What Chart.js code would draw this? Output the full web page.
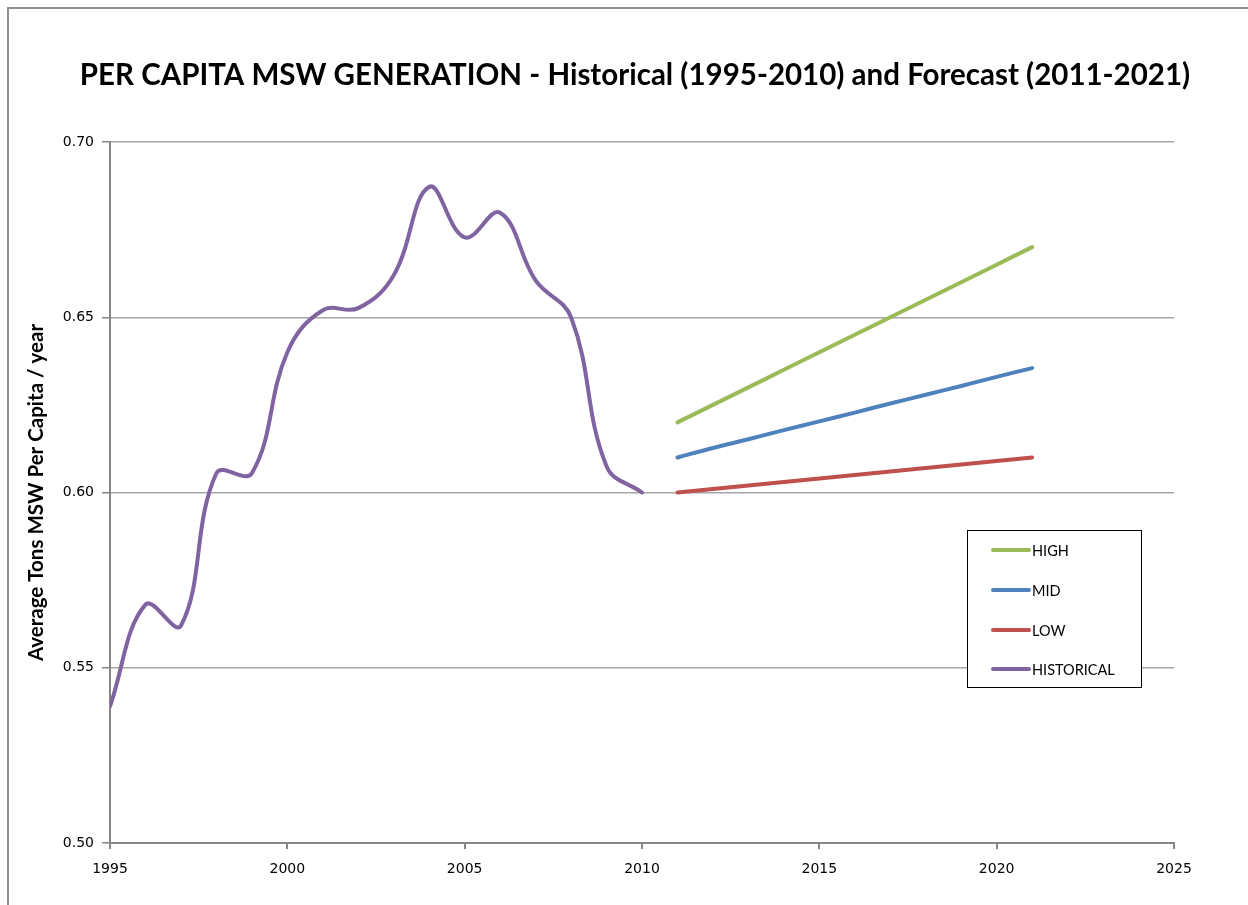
<!DOCTYPE html>
<html>
<head>
<meta charset="utf-8">
<script src="https://cdn.jsdelivr.net/npm/chart.js@4/dist/chart.umd.min.js"></script>
<style>
  html, body { margin: 0; padding: 0; background: #fff; overflow: hidden; }
  #frame { position: absolute; left: 7px; top: 7px; width: 1400px; height: 1100px; border: 2px solid #8e8e8e; }
  #wrap { position: absolute; left: 0; top: 0; width: 1248px; height: 905px; }
</style>
</head>
<body>
<div id="frame"></div>
<div id="wrap"><canvas id="c" width="1248" height="905"></canvas></div>
<script>
const chartTitle = 'PER CAPITA MSW GENERATION - Historical (1995-2010) and Forecast (2011-2021)';
const yAxisTitle = 'Average Tons MSW Per Capita / year';

const historicalYears = [1995,1996,1997,1998,1999,2000,2001,2002,2003,2004,2005,2006,2007,2008,2009,2010];
const historicalValues = [0.539,0.568,0.562,0.6055,0.6055,0.640,0.652,0.6526,0.662,0.6872,0.6728,0.6798,0.6605,0.650,0.6075,0.600];

const forecastYears = [2011,2012,2013,2014,2015,2016,2017,2018,2019,2020,2021];
const highValues = [0.620,0.625,0.630,0.635,0.640,0.645,0.650,0.655,0.660,0.665,0.670];
const midValues  = [0.610,0.6127,0.6152,0.6178,0.6203,0.6228,0.6254,0.6279,0.6304,0.6330,0.6355];
const lowValues  = [0.600,0.601,0.602,0.603,0.604,0.605,0.606,0.607,0.608,0.609,0.610];

const seriesNames = ['HIGH','MID','LOW','HISTORICAL'];
const seriesColors = ['#9BBB59','#4F81BD','#C0504D','#8064A2'];

function pts(xs, ys) { return xs.map((x, i) => ({ x: x, y: ys[i] })); }

const seriesData = [
  pts(forecastYears, highValues),
  pts(forecastYears, midValues),
  pts(forecastYears, lowValues),
  pts(historicalYears, historicalValues)
];

const datasets = seriesNames.map((n, i) => ({
  label: n,
  data: seriesData[i],
  borderColor: seriesColors[i],
  backgroundColor: seriesColors[i],
  borderWidth: 4,
  pointRadius: 0,
  showLine: true,
  tension: 0.4,
  borderCapStyle: 'round',
  borderJoinStyle: 'round',
  fill: false
}));

const titlePlugin = {
  id: 'titleText',
  afterDraw(chart) {
    const ctx = chart.ctx;
    ctx.save();
    ctx.font = 'bold 29.5px Lato';
    ctx.fillStyle = '#000';
    ctx.textAlign = 'center';
    ctx.textBaseline = 'middle';
    ctx.fillText(chartTitle, 635, 75);
    ctx.restore();
  }
};

const boxLegend = {
  id: 'boxLegend',
  afterDraw(chart) {
    const ctx = chart.ctx;
    const bx = 967, by = 530, bw = 174, bh = 157;
    ctx.save();
    ctx.fillStyle = '#fff';
    ctx.fillRect(bx, by, bw, bh);
    ctx.strokeStyle = '#000';
    ctx.lineWidth = 1;
    ctx.strokeRect(bx + 0.5, by + 0.5, bw, bh);
    const rows = [550, 590, 630, 669];
    ctx.font = '14.5px Lato';
    ctx.textBaseline = 'middle';
    ctx.textAlign = 'left';
    chart.data.datasets.forEach((ds, i) => {
      const y = rows[i];
      ctx.strokeStyle = ds.borderColor;
      ctx.lineWidth = 4;
      ctx.lineCap = 'round';
      ctx.beginPath();
      ctx.moveTo(993, y);
      ctx.lineTo(1029, y);
      ctx.stroke();
      ctx.fillStyle = '#000';
      ctx.fillText(ds.label, 1032, y + 1);
    });
    ctx.restore();
  }
};

new Chart(document.getElementById('c'), {
  type: 'scatter',
  data: { datasets: datasets },
  options: {
    responsive: false,
    animation: false,
    layout: { padding: { left: 0, top: 142, right: 74, bottom: 0 } },
    plugins: { legend: { display: false }, title: { display: false }, tooltip: { enabled: false } },
    scales: {
      x: {
        type: 'linear',
        min: 1995, max: 2025,
        afterFit(s) { s.height = 62; },
        ticks: { stepSize: 5, color: '#000', font: { family: 'DejaVu Sans', size: 14 }, padding: 12, maxRotation: 0,
                 callback: v => String(v) },
        grid: { drawOnChartArea: false, drawTicks: true, tickLength: 6, color: '#868686', lineWidth: 2 },
        border: { color: '#868686', width: 2 }
      },
      y: {
        min: 0.5, max: 0.7,
        afterFit(s) { s.width = 110; },
        ticks: { stepSize: 0.05, color: '#000', font: { family: 'DejaVu Sans', size: 14 }, padding: 8,
                 callback: v => Number(v).toFixed(2) },
        grid: { color: '#a6a6a6', lineWidth: 1.5, tickLength: 8, tickColor: '#868686' },
        border: { color: '#868686', width: 2 },
        title: { display: true, text: yAxisTitle, color: '#000', font: { family: 'Lato', size: 20.5, weight: 'bold' }, padding: { top: 24, bottom: 0 } }
      }
    }
  },
  plugins: [titlePlugin, boxLegend]
});
</script>
</body>
</html>
